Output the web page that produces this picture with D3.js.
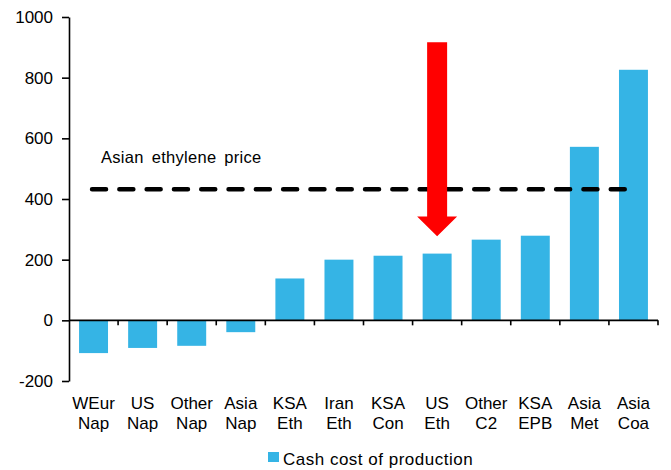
<!DOCTYPE html>
<html>
<head>
<meta charset="utf-8">
<style>
  body { margin: 0; background: #fff; }
  text { font-family: "Liberation Sans", Arial, sans-serif; fill: #000; }
  .axis path, .axis line { stroke: #000; stroke-width: 1.6px; }
  .axis text { font-size: 17px; }
</style>
</head>
<body>
<svg id="chart" width="671" height="470"></svg>
<script src="https://cdn.jsdelivr.net/npm/d3@7"></script>
<script>
// data
var categories = ["WEur|Nap", "US|Nap", "Other|Nap", "Asia|Nap", "KSA|Eth", "Iran|Eth",
                  "KSA|Con", "US|Eth", "Other|C2", "KSA|EPB", "Asia|Met", "Asia|Coa"];
var cashCost = [-108, -91, -84, -39, 138, 200, 213, 220, 266, 279, 572, 826];
var asianPrice = 432;
var priceLabel = "Asian ethylene price";
var seriesName = "Cash cost of production";
var yTicks = [-200, 0, 200, 400, 600, 800, 1000];
// arrow pointing at US Eth: top, end of shaft, tip
var arrowCat = "US|Eth";
var arrowVals = [917, 342, 277];

var svg = d3.select("#chart");

var x = d3.scaleBand().domain(categories).range([69, 658])
  .paddingInner(0.41).paddingOuter(0.205);
var y = d3.scaleLinear().domain([-200, 1000]).range([381, 17]);

// y axis
svg.append("g")
  .attr("class", "axis")
  .attr("transform", "translate(69,0)")
  .call(d3.axisLeft(y).tickValues(yTicks).tickFormat(function (d) { return String(d); })
    .tickSize(7).tickSizeOuter(0).tickPadding(9));

// bars
svg.selectAll(".bar")
  .data(cashCost)
  .enter().append("rect")
  .attr("class", "bar")
  .attr("x", function (d, i) { return x(categories[i]); })
  .attr("width", x.bandwidth())
  .attr("y", function (d) { return y(Math.max(0, d)); })
  .attr("height", function (d) { return Math.abs(y(d) - y(0)); })
  .style("fill", "#35b4e5");

// zero line with category ticks
var step = x.step();
var zero = svg.append("g").attr("class", "axis");
zero.append("line")
  .attr("x1", 69).attr("x2", 658)
  .attr("y1", y(0)).attr("y2", y(0));
zero.selectAll(".tk")
  .data(d3.range(1, categories.length + 1))
  .enter().append("line")
  .attr("x1", function (i) { return 69 + i * step; })
  .attr("x2", function (i) { return 69 + i * step; })
  .attr("y1", y(0)).attr("y2", y(0) + 5);

// category labels (two lines)
var xg = svg.append("g")
  .attr("class", "axis")
  .attr("transform", "translate(0,381)")
  .call(d3.axisBottom(x).tickSize(0));
xg.select(".domain").remove();
xg.selectAll(".tick text").each(function (d) {
  var t = d3.select(this).text(null).attr("dy", null).attr("y", null);
  var parts = d.split("|");
  t.append("tspan").attr("x", 0).attr("y", 28).text(parts[0]);
  t.append("tspan").attr("x", 0).attr("y", 48).text(parts[1]);
});

// price line
var first = categories[0], last = categories[categories.length - 1];
svg.append("line")
  .attr("x1", x(first) + x.bandwidth() / 2 - 1.5)
  .attr("x2", x(last) + x.bandwidth() / 2)
  .attr("y1", y(asianPrice)).attr("y2", y(asianPrice))
  .style("stroke", "#000")
  .style("stroke-width", 4.5)
  .style("stroke-dasharray", "14,13.3")
  .style("stroke-linecap", "round");

svg.append("text")
  .attr("x", 101).attr("y", 163)
  .style("font-size", "16.5px")
  .style("letter-spacing", "0.3px")
  .style("word-spacing", "3px")
  .text(priceLabel);

// red arrow
var ax = x(arrowCat) + x.bandwidth() / 2;
var pts = [
  [ax - 10, y(arrowVals[0])], [ax + 10, y(arrowVals[0])],
  [ax + 10, y(arrowVals[1])], [ax + 20, y(arrowVals[1])],
  [ax, y(arrowVals[2])],
  [ax - 20, y(arrowVals[1])], [ax - 10, y(arrowVals[1])]
];
svg.append("path")
  .attr("d", d3.line()(pts) + "Z")
  .style("fill", "#ff0000");

// legend
svg.append("rect")
  .attr("x", 268).attr("y", 452).attr("width", 11).attr("height", 10)
  .style("fill", "#35b4e5");
svg.append("text")
  .attr("x", 283).attr("y", 465)
  .style("font-size", "17px")
  .style("letter-spacing", "0.5px")
  .text(seriesName);
</script>
</body>
</html>
